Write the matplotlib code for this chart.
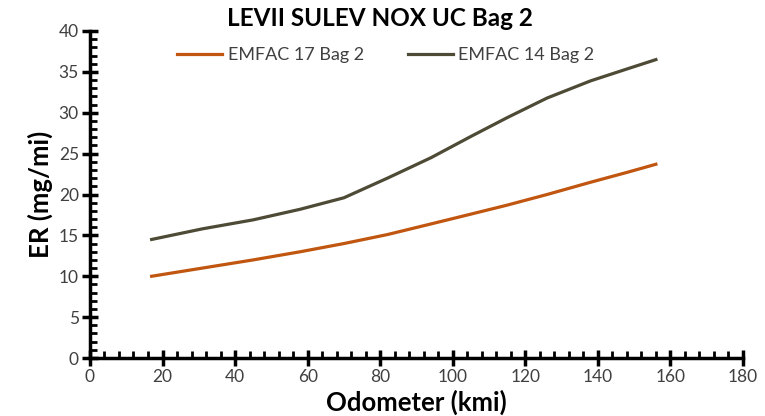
import numpy as np
import matplotlib.pyplot as plt
from matplotlib.ticker import MultipleLocator

plt.rcParams['font.family'] = ['Lato', 'DejaVu Sans']

odo = [17, 31, 45, 58, 70, 82, 94, 105, 115, 126, 138, 148, 156]
emfac17 = [10.0, 11.0, 12.0, 13.0, 14.0, 15.1, 16.4, 17.6, 18.7, 20.0, 21.5, 22.7, 23.7]
emfac14 = [14.5, 15.8, 16.9, 18.2, 19.6, 22.0, 24.5, 27.1, 29.4, 31.8, 33.9, 35.35, 36.5]

fig = plt.figure(figsize=(7.65, 4.16), dpi=100)
ax = fig.add_axes([0.1176, 0.1394, 0.8536, 0.7861])

ax.plot(odo, emfac17, color='#c0560f', lw=2.3, label='EMFAC 17 Bag 2')
ax.plot(odo, emfac14, color='#4d4a35', lw=2.3, label='EMFAC 14 Bag 2')

ax.set_xlim(0, 180)
ax.set_ylim(0, 40)
ax.xaxis.set_major_locator(MultipleLocator(20))
ax.xaxis.set_minor_locator(MultipleLocator(4))
ax.yaxis.set_major_locator(MultipleLocator(5))
ax.yaxis.set_minor_locator(MultipleLocator(1))

for s in ['top', 'right']:
    ax.spines[s].set_visible(False)
for s in ['left', 'bottom']:
    ax.spines[s].set_linewidth(2.5)

ax.tick_params(which='major', direction='inout', length=12, width=2.5,
               labelsize=12.5, labelcolor='#404040', pad=2)
ax.tick_params(which='minor', direction='in', length=5, width=2)

ax.set_xlabel('Odometer (kmi)', fontsize=18.5, fontweight='bold', labelpad=3)
ax.set_ylabel('ER (mg/mi)', fontsize=18.5, fontweight='bold', labelpad=4)

fig.text(0.497, 0.955, 'LEVII SULEV NOX UC Bag 2', ha='center', va='center',
         fontsize=17.5, fontweight='bold')

ax.legend(loc='upper center', bbox_to_anchor=(0.453, 1.0), ncol=2, frameon=False,
          fontsize=13, handlelength=2.5, handletextpad=0.3, columnspacing=2.45,
          labelcolor='#404040')

fig.savefig('out.png', dpi=100)
